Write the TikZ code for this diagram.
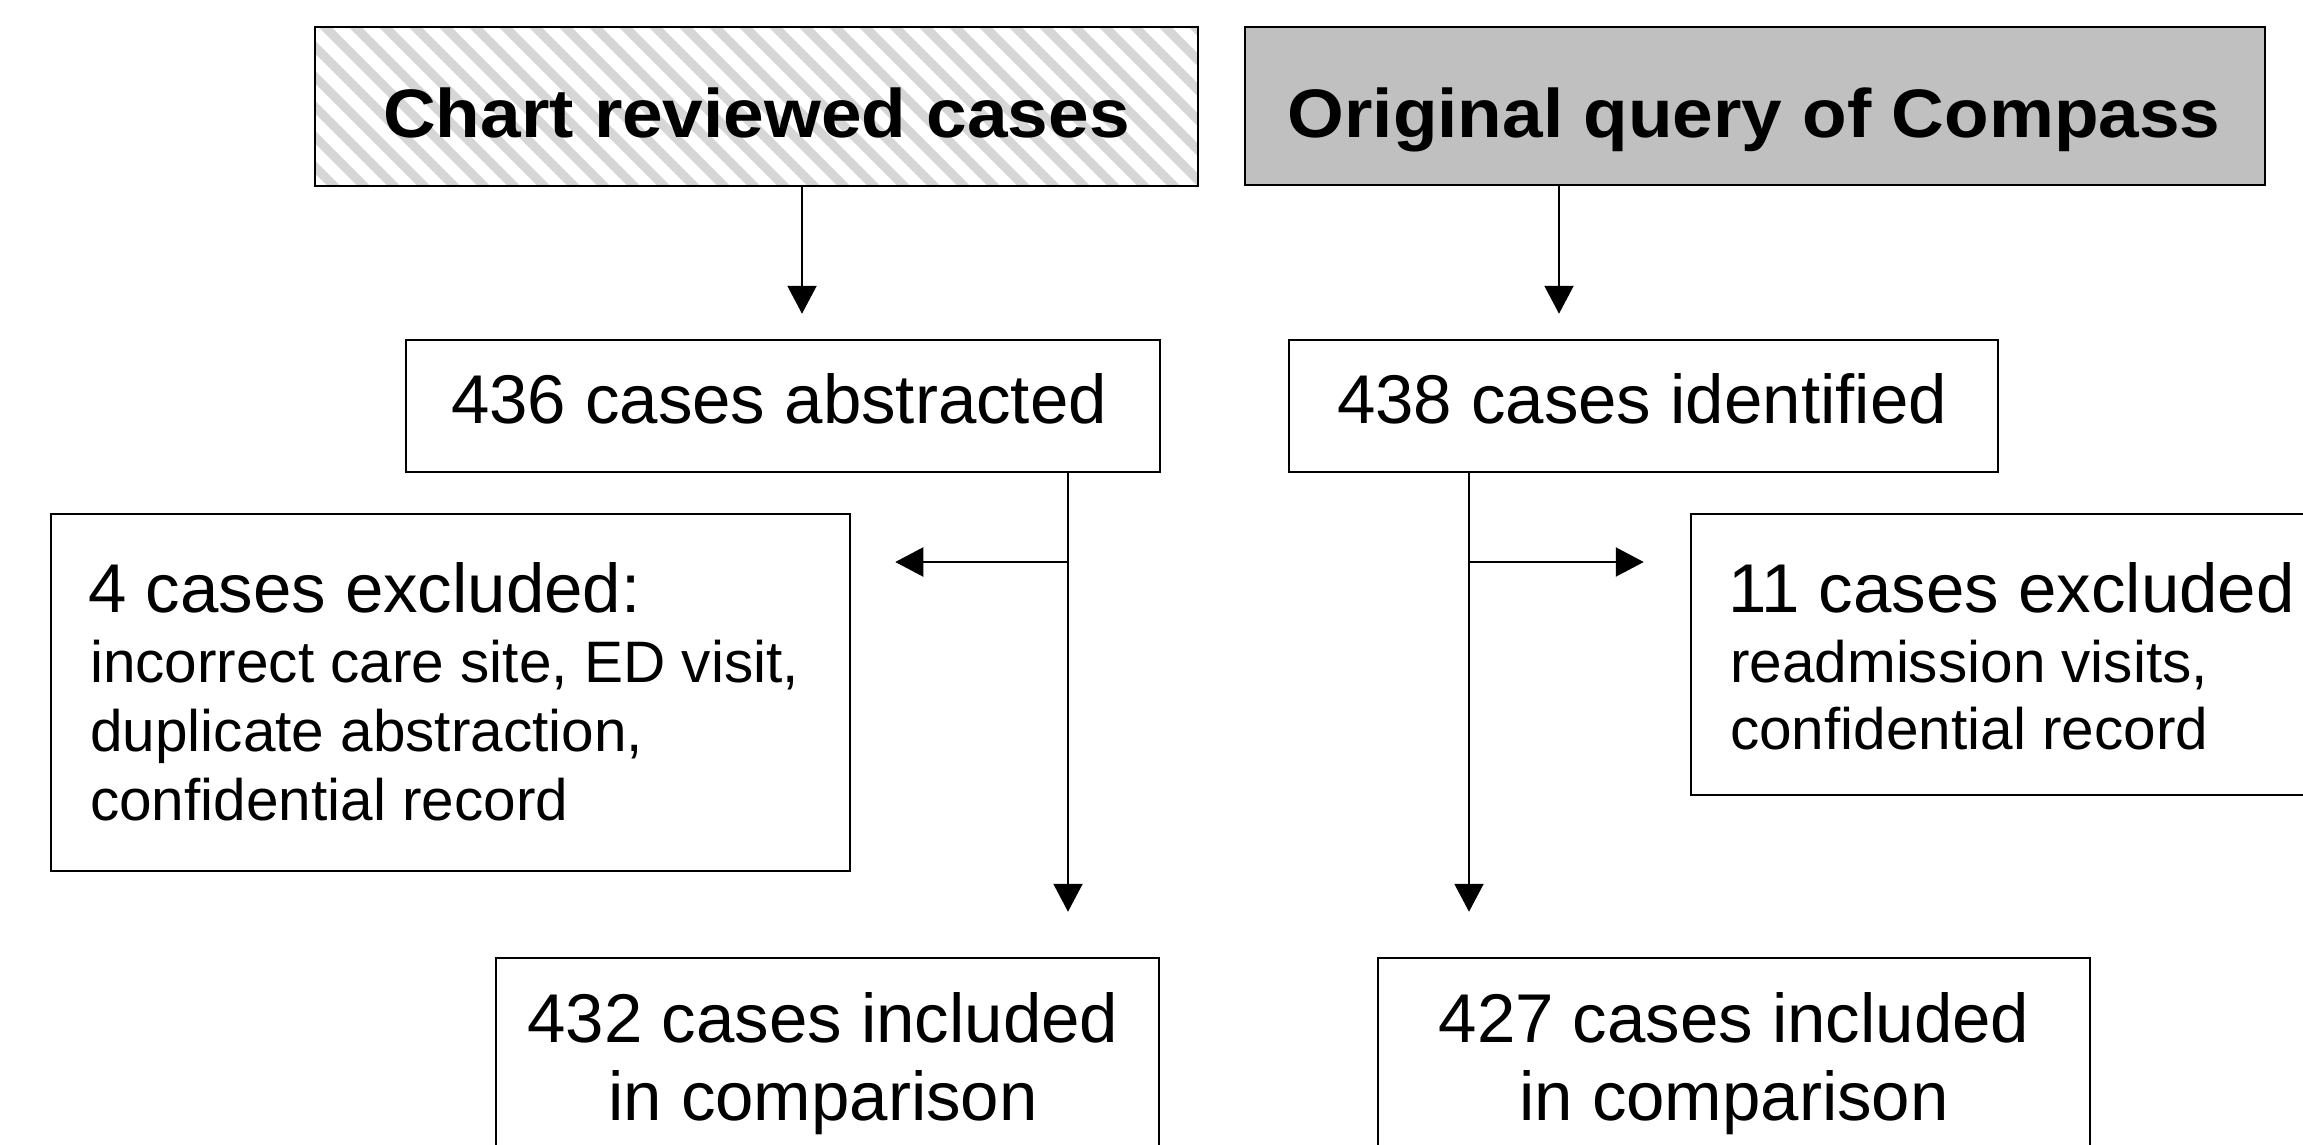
\documentclass[tikz,border=0pt]{standalone}
\usepackage{graphicx}
\usepackage{fontspec}
\setmainfont{Liberation Sans}
\usetikzlibrary{arrows.meta}
\definecolor{boxgray}{HTML}{C0C0C0}
\definecolor{hatchgray}{HTML}{D6D6D6}
\begin{document}
\begin{tikzpicture}[x=1pt,y=-1pt,
  box/.style={draw=black, line width=2.5pt, rectangle, inner sep=0pt},
  txt/.style={inner sep=0pt, font=\fontsize{69}{80}\selectfont},
  sml/.style={inner sep=0pt, font=\fontsize{58.5}{69}\selectfont},
  ttl/.style={inner sep=0pt, font=\bfseries\fontsize{73}{80}\selectfont},
  arr/.style={line width=2.2pt, -{Triangle[length=28pt,width=29pt]}}]
\useasboundingbox (0,0) rectangle (2303,1144);
\fill[white] (0,0) rectangle (2303,1144);

% hatching of the first box
\begin{scope}
  \clip (315,27) rectangle (1198,186);
  \foreach \i in {0,...,37}
    \draw[hatchgray, line width=9pt] ({135+\i*30},17) -- ++(200,200);
\end{scope}

% boxes
\node[box, minimum width=883pt, minimum height=159pt] (boxA) at (756.5,106.5) {};
\node[box, fill=boxgray, minimum width=1020pt, minimum height=158pt] (boxB) at (1755,106) {};
\node[box, minimum width=754pt, minimum height=132pt] (boxC) at (783,406) {};
\node[box, minimum width=709pt, minimum height=132pt] (boxD) at (1643.5,406) {};
\node[box, minimum width=799pt, minimum height=357pt] (boxE) at (450.5,692.5) {};
\node[box, minimum width=639pt, minimum height=281pt] (boxF) at (2010.5,654.5) {};
\node[box, minimum width=663pt, minimum height=232pt] (boxG) at (827.5,1074) {};
\node[box, minimum width=712pt, minimum height=232pt] (boxH) at (1734,1074) {};

% texts
\node[ttl, anchor=base] (tA) at (756.5,137) {\scalebox{1}[0.94]{Chart reviewed cases}};
\node[ttl, anchor=base] (tB) at (1754,137) {\scalebox{1}[0.94]{Original query of Compass}};
\node[txt, anchor=base] (tC) at (779,423) {436 cases abstracted};
\node[txt, anchor=base] (tD) at (1642,423) {438 cases identified};

\node[txt, anchor=base west] (tE1) at (88,612) {4 cases excluded:};
\node[sml, anchor=base west] (tE2) at (90,682) {incorrect care site, ED visit,};
\node[sml, anchor=base west] (tE3) at (90,751) {duplicate abstraction,};
\node[sml, anchor=base west] (tE4) at (90,820) {confidential record};

\node[txt, anchor=base west] (tF1) at (1728,612) {11 cases excluded};
\node[sml, anchor=base west] (tF2) at (1730,682) {readmission visits,};
\node[sml, anchor=base west] (tF3) at (1730,749) {confidential record};

\node[txt, anchor=base] (tG1) at (823,1042) {432 cases included};
\node[txt, anchor=base] (tG2) at (823,1120) {in comparison};
\node[txt, anchor=base] (tH1) at (1734,1042) {427 cases included};
\node[txt, anchor=base] (tH2) at (1734,1120) {in comparison};

% connector helpers
\coordinate (xA) at (802,0);
\coordinate (xB) at (1559,0);
\coordinate (xC) at (1068,0);
\coordinate (xD) at (1469,0);
\coordinate (jy) at (0,562);

% connectors
\draw[arr, shorten >=25pt] (xA |- boxA.south) -- (xA |- boxC.north);
\draw[arr, shorten >=25pt] (xB |- boxB.south) -- (xB |- boxD.north);
\draw[arr, shorten >=45pt] (xC |- boxC.south) -- (xC |- boxG.north);
\draw[arr, shorten >=45pt] (xD |- boxD.south) -- (xD |- boxH.north);
\draw[arr, shorten >=44pt] (xC |- jy) -- (boxE.east |- jy);
\draw[arr, shorten >=46pt] (xD |- jy) -- (boxF.west |- jy);
\end{tikzpicture}
\end{document}
